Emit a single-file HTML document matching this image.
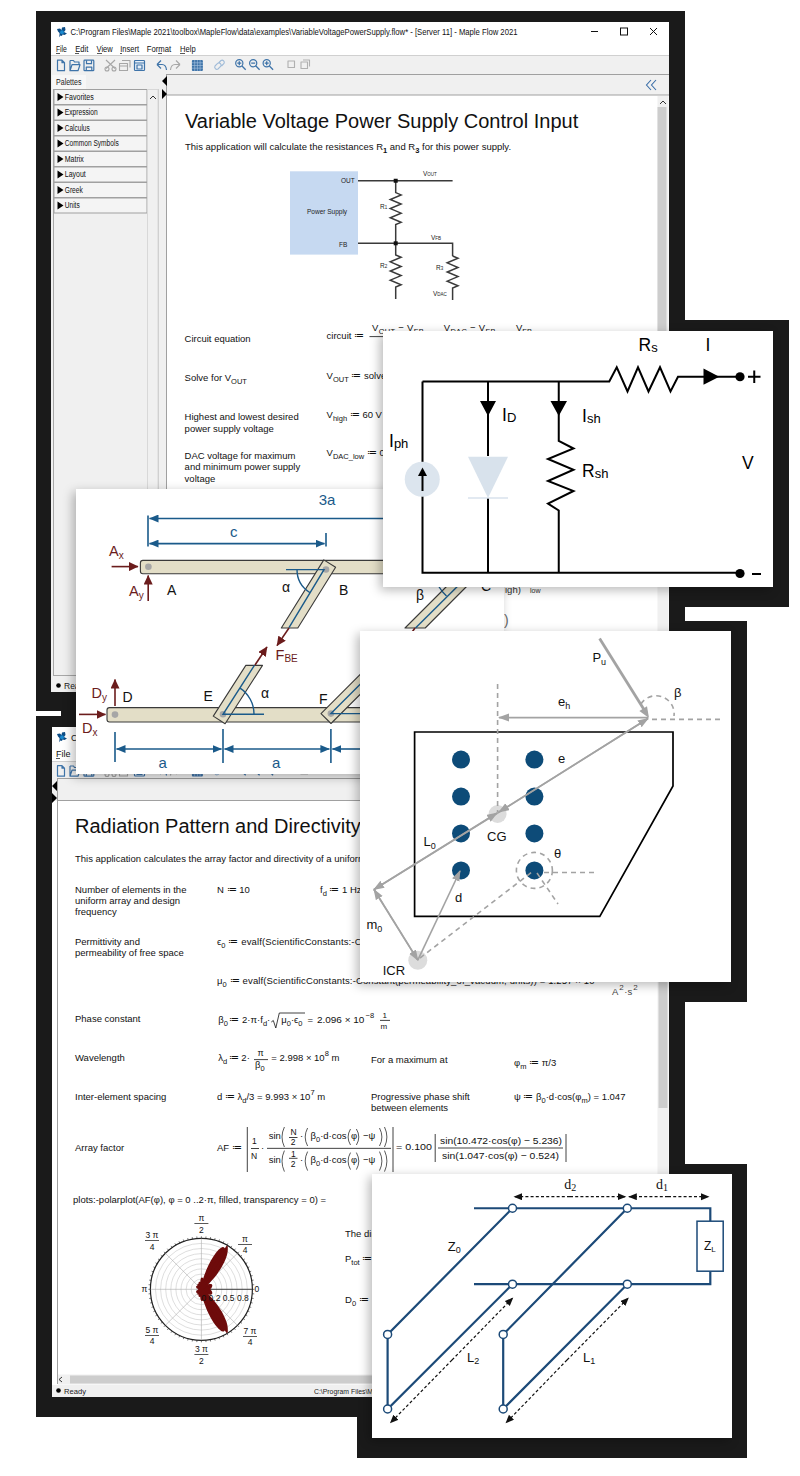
<!DOCTYPE html>
<html><head><meta charset="utf-8">
<style>
*{margin:0;padding:0;box-sizing:border-box}
html,body{width:800px;height:1476px;background:#fff;overflow:hidden;font-family:"Liberation Sans",sans-serif;color:#111}
.a{position:absolute}
.dk{position:absolute;background:#1a1a1a}
.win{position:absolute;background:#fff;overflow:hidden}
.t{position:absolute;white-space:nowrap;font-size:10.5px;line-height:1}
.card{position:absolute;background:#fff;box-shadow:-3px 3px 10px rgba(0,0,0,0.28)}
svg{position:absolute;left:0;top:0;overflow:visible}
sub{font-size:75%;vertical-align:-3px;line-height:0}
sup{font-size:75%;vertical-align:4px;line-height:0}
</style></head><body>
<!-- dark frames -->
<div class="dk" style="left:36px;top:11px;width:649px;height:700px"></div>
<div class="dk" style="left:36px;top:716px;width:649px;height:701px"></div>
<div class="dk" style="left:61px;top:480px;width:460px;height:310px"></div>
<div class="dk" style="left:367px;top:320px;width:422px;height:287px"></div>
<div class="dk" style="left:345px;top:621px;width:402px;height:381px"></div>
<div class="dk" style="left:357px;top:1164px;width:390px;height:294px"></div>

<!-- WINDOW 1 -->
<svg width="800" height="1476" style="font-family:'Liberation Sans',sans-serif">
<!-- window1 chrome -->
<rect x="51" y="22" width="618" height="670" fill="#fff"/>
<rect x="51" y="55.5" width="618" height="19" fill="#f0f0f0"/>
<line x1="51" y1="55.5" x2="669" y2="55.5" stroke="#d0d0d0" stroke-width="1"/>
<!-- palette area -->
<rect x="51" y="74" width="116" height="618" fill="#f0f0f0"/>
<rect x="52" y="75" width="34" height="14" fill="#f7f7f7"/>
<text x="56" y="85" font-size="8.5" fill="#222" textLength="25.5" lengthAdjust="spacingAndGlyphs">Palettes</text>
<rect x="53.5" y="89.5" width="104.5" height="586" fill="#f0f0f0" stroke="#a8a8a8" stroke-width="1"/>
<line x1="158.5" y1="89" x2="158.5" y2="676" stroke="#c8c8c8"/>
<line x1="166.5" y1="74" x2="166.5" y2="684" stroke="#a0a0a0"/>
<!-- palette items -->
<g font-size="8.5" fill="#111">
<rect x="54" y="89.5" width="93" height="15" fill="#f4f4f4" stroke="#a0a0a0" stroke-width="1"/><path d="M57.5 93.0 l6 4 l-6 4 z" fill="#000"/><text x="64.75" y="99.8" textLength="29" lengthAdjust="spacingAndGlyphs">Favorites</text>
<rect x="54" y="105.0" width="93" height="15" fill="#f4f4f4" stroke="#a0a0a0" stroke-width="1"/><path d="M57.5 108.5 l6 4 l-6 4 z" fill="#000"/><text x="64.75" y="115.3" textLength="33" lengthAdjust="spacingAndGlyphs">Expression</text>
<rect x="54" y="120.5" width="93" height="15" fill="#f4f4f4" stroke="#a0a0a0" stroke-width="1"/><path d="M57.5 124.0 l6 4 l-6 4 z" fill="#000"/><text x="64.75" y="130.8" textLength="25" lengthAdjust="spacingAndGlyphs">Calculus</text>
<rect x="54" y="136.0" width="93" height="15" fill="#f4f4f4" stroke="#a0a0a0" stroke-width="1"/><path d="M57.5 139.5 l6 4 l-6 4 z" fill="#000"/><text x="64.75" y="146.3" textLength="54" lengthAdjust="spacingAndGlyphs">Common Symbols</text>
<rect x="54" y="151.5" width="93" height="15" fill="#f4f4f4" stroke="#a0a0a0" stroke-width="1"/><path d="M57.5 155.0 l6 4 l-6 4 z" fill="#000"/><text x="64.75" y="161.8" textLength="19" lengthAdjust="spacingAndGlyphs">Matrix</text>
<rect x="54" y="167.0" width="93" height="15" fill="#f4f4f4" stroke="#a0a0a0" stroke-width="1"/><path d="M57.5 170.5 l6 4 l-6 4 z" fill="#000"/><text x="64.75" y="177.3" textLength="21" lengthAdjust="spacingAndGlyphs">Layout</text>
<rect x="54" y="182.5" width="93" height="15" fill="#f4f4f4" stroke="#a0a0a0" stroke-width="1"/><path d="M57.5 186.0 l6 4 l-6 4 z" fill="#000"/><text x="64.75" y="192.8" textLength="18" lengthAdjust="spacingAndGlyphs">Greek</text>
<rect x="54" y="198.0" width="93" height="15" fill="#f4f4f4" stroke="#a0a0a0" stroke-width="1"/><path d="M57.5 201.5 l6 4 l-6 4 z" fill="#000"/><text x="64.75" y="208.3" textLength="15" lengthAdjust="spacingAndGlyphs">Units</text>

</g>
<rect x="147.5" y="89.5" width="10.5" height="586" fill="#f0f0f0" stroke="#d8d8d8"/>
<path d="M150 99 l3 -3 l3 3" fill="none" stroke="#333" stroke-width="1"/>
<!-- doc area -->
<rect x="167" y="74.5" width="502" height="20.5" fill="#f0f0f0"/>
<line x1="167" y1="74.5" x2="669" y2="74.5" stroke="#a0a0a0"/>
<line x1="167" y1="95" x2="669" y2="95" stroke="#a0a0a0"/>
<path d="M162 81 l5 -5 v10 z M162 89 l5 5 l-5 5 z" fill="#000"/>
<path d="M651 80 l-4.5 5 l4.5 5 M656 80 l-4.5 5 l4.5 5" fill="none" stroke="#3a6ea8" stroke-width="1.1"/>
<rect x="657.5" y="96" width="11" height="588" fill="#f0f0f0"/>
<rect x="657.5" y="107" width="9" height="475" fill="#cdcdcd"/>
<path d="M660 104 l3 -3 l3 3" fill="none" stroke="#333" stroke-width="1"/>
<!-- status bar -->
<rect x="51" y="678" width="618" height="14" fill="#f0f0f0"/>
<circle cx="58.5" cy="685.5" r="2.3" fill="#000"/>
<text x="64" y="689" font-size="8.5" fill="#222">Ready</text>
<!-- title bar -->
<text x="70.5" y="35" font-size="8.6" fill="#111" textLength="447" lengthAdjust="spacingAndGlyphs">C:\Program Files\Maple 2021\toolbox\MapleFlow\data\examples\VariableVoltagePowerSupply.flow* - [Server 11] - Maple Flow 2021</text>
<path d="M591 31.5 h7" stroke="#111" stroke-width="1"/>
<rect x="620.5" y="28" width="7" height="7" fill="none" stroke="#111" stroke-width="1"/>
<path d="M650 28 l7 7 M657 28 l-7 7" stroke="#111" stroke-width="1"/>
<g transform="translate(0,0)"><path d="M57 29 L60 28.5 L61.5 30 L62 27.5 L65 27 L65.5 30 L64 32 L67 33.5 L64.5 35 L62.5 34.5 L62 36 L60.5 35.5 L59 37.2 L59.5 35 L59.5 33 L58 31.5 Z" fill="#0c4d86"/><circle cx="62" cy="32.2" r="1.9" fill="#1a8ad0"/></g>
<!-- menu -->
<g font-size="9" fill="#111">
<text x="55.9" y="52" textLength="11" lengthAdjust="spacingAndGlyphs">File</text><text x="75.3" y="52" textLength="13" lengthAdjust="spacingAndGlyphs">Edit</text><text x="96.5" y="52" textLength="16.2" lengthAdjust="spacingAndGlyphs">View</text><text x="120.2" y="52" textLength="18.8" lengthAdjust="spacingAndGlyphs">Insert</text><text x="146.8" y="52" textLength="24.4" lengthAdjust="spacingAndGlyphs">Format</text><text x="180" y="52" textLength="15.6" lengthAdjust="spacingAndGlyphs">Help</text>
</g>
<g stroke="#111" stroke-width="0.7">
<path d="M56 53.5 h4 M75 53.5 h4 M97 53.5 h5 M120 53.5 h2 M158 53.5 h4 M180 53.5 h5"/>
</g>
<g fill="none" stroke="#3f74a9" stroke-width="1.2" stroke-linejoin="round">
<path d="M57.5 60.2 h4.5 l2.5 2.5 v8 h-7 z M62 60.2 v2.5 h2.5"/>
<path d="M70 60.5 h3.5 l1 1.5 h4.5 v2.5 M70 60.5 v10.2 h8 l2 -6 h-8 l-2 6"/>
<rect x="84" y="60.2" width="9.8" height="10.5" rx="0.8"/><path d="M86.5 60.2 v3.5 h5 v-3.5 M86.3 70.7 v-3.6 h5.5 v3.6"/>
<rect x="134.5" y="60.5" width="10" height="10" rx="0.8" fill="#e8f0f8"/><path d="M134.5 63 h10 M137 65 h5 v4 h-5z"/>
<path d="M157 64.5 l4 -4 M157 64.5 l4 4 M157 64.5 h5 q4 0 4.5 5.5"/>
<circle cx="239.3" cy="63.2" r="3.6"/><path d="M242 66 l3.7 3.7 M237.3 63.2 h4 M239.3 61.2 v4" stroke-width="1.3"/>
<circle cx="253.2" cy="63.2" r="3.6"/><path d="M255.9 66 l3.7 3.7 M251.2 63.2 h4" stroke-width="1.3"/>
<circle cx="266.7" cy="63.2" r="3.6"/><path d="M269.4 66 l3.7 3.7 M264.7 63.2 h4 M266.7 61.2 v4" stroke-width="1.3"/>
</g>
<rect x="191.9" y="60" width="11" height="11" rx="1" fill="#3f74a9"/>
<g stroke="#a9c4e0" stroke-width="0.6"><path d="M192 62.8 h11 M192 65.5 h11 M192 68.2 h11 M194.7 60 v11 M197.4 60 v11 M200.1 60 v11"/></g>
<g fill="none" stroke="#9fbbd8" stroke-width="1.1">
<path d="M215 66 l2.8 -2.8 a2.2 2.2 0 0 1 3 3 l-2.8 2.8 a2.2 2.2 0 0 1 -3 -3z M218.5 63 l2.5 -2.5 a2.2 2.2 0 0 1 3 3 l-2.5 2.5"/>
</g>
<g fill="none" stroke="#a6a6a6" stroke-width="1.1" stroke-linejoin="round">
<path d="M106 60 l9 8.5 M115 60 l-9 8.5"/><circle cx="107" cy="69" r="2"/><circle cx="114" cy="69" r="2"/>
<path d="M119.5 63.5 h8 v7 h-8z M119.5 66 h8 M122 60.5 h8 v7"/>
<path d="M180 64.5 l-4 -4 M180 64.5 l-4 4 M180 64.5 h-5 q-4 0 -4.5 5.5"/>
<path d="M288 61 h6.5 v6.5 h-6.5z M301 62 h6.5 v6.5 h-6.5z M303 60 h6.5 v6.5" stroke="#b0b0b0"/>
</g>
<!-- document content -->
<text x="185" y="128" font-size="20" fill="#111">Variable Voltage Power Supply Control Input</text>
<text x="185" y="150" font-size="9.5" fill="#111">This application will calculate the resistances R<tspan font-size="7.5" dy="3" font-weight="bold">1</tspan><tspan dy="-3"> and R</tspan><tspan font-size="7.5" dy="3" font-weight="bold">3</tspan><tspan dy="-3"> for this power supply.</tspan></text>
<!-- small schematic -->
<rect x="290" y="171.3" width="68" height="83.3" fill="#c6d9f1"/>
<g stroke="#3a3a3a" stroke-width="1.5" fill="none">
<path d="M358 180.75 H452.6 M358 243.3 H452.6 V256"/>
<path d="M395.7 180.75 V192.6 l5.4 2.3 l-10.8 4.57 l10.8 4.57 l-10.8 4.57 l10.8 4.57 l-10.8 4.57 l10.8 4.57 l-5.4 2.3 V255 l5.4 2.3 l-10.8 4.57 l10.8 4.57 l-10.8 4.57 l10.8 4.57 l-10.8 4.57 l10.8 4.57 l-5.4 2.3 V299"/>
<path d="M452.6 256 l5.4 2.3 l-10.8 4.57 l10.8 4.57 l-10.8 4.57 l10.8 4.57 l-10.8 4.57 l10.8 4.57 l-5.4 2.3 V300"/>
</g>
<rect x="393.7" y="178.75" width="4" height="4" fill="#111"/>
<rect x="393.7" y="241.3" width="4" height="4" fill="#111"/>
<g font-size="6.5" fill="#222">
<text x="341" y="183">OUT</text><text x="307" y="214">Power Supply</text><text x="339" y="246.5">FB</text>
<text x="423" y="176">V<tspan font-size="4.5">OUT</tspan></text>
<text x="380" y="209">R<tspan font-size="4.5">1</tspan></text>
<text x="431" y="240">V<tspan font-size="4.5">FB</tspan></text>
<text x="380" y="268">R<tspan font-size="4.5">2</tspan></text>
<text x="436" y="270">R<tspan font-size="4.5">3</tspan></text>
<text x="433" y="296">V<tspan font-size="4.5">DAC</tspan></text>
</g>
<!-- rows -->
<g font-size="9.5" fill="#111">
<text x="184.6" y="341.6">Circuit equation</text>
<text x="184.6" y="381">Solve for V<tspan font-size="7.5" dy="3">OUT</tspan></text>
<text x="184.6" y="420">Highest and lowest desired</text>
<text x="184.6" y="432">power supply voltage</text>
<text x="184.6" y="458.5">DAC voltage for maximum</text>
<text x="184.6" y="470">and minimum power supply</text>
<text x="184.6" y="481.5">voltage</text>
<text x="326.6" y="339.3">circuit <tspan>≔</tspan></text>
<text x="372" y="331" letter-spacing="0.3">V<tspan font-size="7.5" dy="3">OUT</tspan><tspan dy="-3"> − V</tspan><tspan font-size="7.5" dy="3">FB</tspan></text><text x="443.75" y="331" letter-spacing="0.3">V<tspan font-size="7.5" dy="3">DAC</tspan><tspan dy="-3"> − V</tspan><tspan font-size="7.5" dy="3">FB</tspan></text><text x="516" y="331">V<tspan font-size="7.5" dy="3">FB</tspan></text>
<text x="326.6" y="378.5">V<tspan font-size="7.5" dy="3">OUT</tspan><tspan dy="-3"> ≔ solve</tspan></text>
<text x="326.6" y="417.6">V<tspan font-size="7.5" dy="3">high</tspan><tspan dy="-3"> ≔ 60 V</tspan></text>
<text x="326.6" y="456">V<tspan font-size="7.5" dy="3">DAC_low</tspan><tspan dy="-3"> ≔ 0</tspan></text>
</g>
<line x1="369.5" y1="336.6" x2="540" y2="336.6" stroke="#111" stroke-width="0.8"/>
<g font-size="9.5" fill="#333">
<text x="505" y="593">igh)</text><text x="530" y="593" font-size="7">low</text>
<text x="504" y="625" font-size="14" fill="#666">)</text>
</g>
</svg>


<!-- WINDOW 2 -->
<svg width="800" height="1476" style="font-family:'Liberation Sans',sans-serif">
<rect x="52" y="727" width="617" height="670" fill="#fff"/>
<g transform="translate(0,705)"><path d="M57 29 L60 28.5 L61.5 30 L62 27.5 L65 27 L65.5 30 L64 32 L67 33.5 L64.5 35 L62.5 34.5 L62 36 L60.5 35.5 L59 37.2 L59.5 35 L59.5 33 L58 31.5 Z" fill="#0c4d86"/><circle cx="62" cy="32.2" r="1.9" fill="#1a8ad0"/></g>
<text x="71" y="741" font-size="9" fill="#111">C:\</text>
<text x="56" y="757" font-size="9" fill="#111">File</text>
<path d="M56 758.5 h4" stroke="#111" stroke-width="0.7"/>
<rect x="52" y="762" width="617" height="16" fill="#f0f0f0"/>
<line x1="52" y1="761.5" x2="669" y2="761.5" stroke="#d0d0d0"/>
<g transform="translate(0,705.5)"><g fill="none" stroke="#3f74a9" stroke-width="1.2" stroke-linejoin="round">
<path d="M57.5 60.2 h4.5 l2.5 2.5 v8 h-7 z M62 60.2 v2.5 h2.5"/>
<path d="M70 60.5 h3.5 l1 1.5 h4.5 v2.5 M70 60.5 v10.2 h8 l2 -6 h-8 l-2 6"/>
<rect x="84" y="60.2" width="9.8" height="10.5" rx="0.8"/><path d="M86.5 60.2 v3.5 h5 v-3.5 M86.3 70.7 v-3.6 h5.5 v3.6"/>
<rect x="134.5" y="60.5" width="10" height="10" rx="0.8" fill="#e8f0f8"/><path d="M134.5 63 h10 M137 65 h5 v4 h-5z"/>
<path d="M157 64.5 l4 -4 M157 64.5 l4 4 M157 64.5 h5 q4 0 4.5 5.5"/>
<circle cx="239.3" cy="63.2" r="3.6"/><path d="M242 66 l3.7 3.7 M237.3 63.2 h4 M239.3 61.2 v4" stroke-width="1.3"/>
<circle cx="253.2" cy="63.2" r="3.6"/><path d="M255.9 66 l3.7 3.7 M251.2 63.2 h4" stroke-width="1.3"/>
<circle cx="266.7" cy="63.2" r="3.6"/><path d="M269.4 66 l3.7 3.7 M264.7 63.2 h4 M266.7 61.2 v4" stroke-width="1.3"/>
</g>
<rect x="191.9" y="60" width="11" height="11" rx="1" fill="#3f74a9"/>
<g stroke="#a9c4e0" stroke-width="0.6"><path d="M192 62.8 h11 M192 65.5 h11 M192 68.2 h11 M194.7 60 v11 M197.4 60 v11 M200.1 60 v11"/></g>
<g fill="none" stroke="#9fbbd8" stroke-width="1.1">
<path d="M215 66 l2.8 -2.8 a2.2 2.2 0 0 1 3 3 l-2.8 2.8 a2.2 2.2 0 0 1 -3 -3z M218.5 63 l2.5 -2.5 a2.2 2.2 0 0 1 3 3 l-2.5 2.5"/>
</g>
<g fill="none" stroke="#a6a6a6" stroke-width="1.1" stroke-linejoin="round">
<path d="M106 60 l9 8.5 M115 60 l-9 8.5"/><circle cx="107" cy="69" r="2"/><circle cx="114" cy="69" r="2"/>
<path d="M119.5 63.5 h8 v7 h-8z M119.5 66 h8 M122 60.5 h8 v7"/>
<path d="M180 64.5 l-4 -4 M180 64.5 l-4 4 M180 64.5 h-5 q-4 0 -4.5 5.5"/>
<path d="M288 61 h6.5 v6.5 h-6.5z M301 62 h6.5 v6.5 h-6.5z M303 60 h6.5 v6.5" stroke="#b0b0b0"/>
</g>
</g>
<rect x="52" y="778" width="617" height="23" fill="#f0f0f0"/>
<line x1="58" y1="778.5" x2="669" y2="778.5" stroke="#a0a0a0"/>
<line x1="58" y1="800.5" x2="669" y2="800.5" stroke="#a0a0a0"/>
<line x1="57.5" y1="778" x2="57.5" y2="1384" stroke="#a0a0a0"/>
<path d="M52 786 l5 -5 v10 z M52 793 l5 5 l-5 5 z" fill="#000"/>
<rect x="657.5" y="801" width="11" height="574" fill="#f0f0f0"/>
<rect x="658.5" y="812" width="9" height="296" fill="#cdcdcd"/>
<!-- horizontal scrollbar + status -->
<rect x="58" y="1374.5" width="611" height="10" fill="#f0f0f0"/>
<rect x="70" y="1375.5" width="587" height="8" fill="#cdcdcd"/>
<path d="M62 1377 l-3 2.5 l3 2.5" fill="none" stroke="#333" stroke-width="1"/>
<rect x="52" y="1385" width="617" height="12" fill="#f0f0f0"/>
<circle cx="58.5" cy="1390.5" r="2.3" fill="#000"/>
<text x="64" y="1394" font-size="8" fill="#222" textLength="22" lengthAdjust="spacingAndGlyphs">Ready</text>
<text x="314" y="1394" font-size="8" fill="#222" textLength="72" lengthAdjust="spacingAndGlyphs">C:\Program Files\Maple</text>
<!-- content -->
<text x="75" y="833" font-size="20" fill="#111">Radiation Pattern and Directivity</text>
<g font-size="9.5" fill="#111">
<text x="75" y="862">This application calculates the array factor and directivity of a uniform linear array.</text>
<text x="75" y="893">Number of elements in the</text>
<text x="75" y="904">uniform array and design</text>
<text x="75" y="915">frequency</text>
<text x="217" y="893">N <tspan>≔</tspan> 10</text>
<text x="320" y="893">f<tspan font-size="7.5" dy="3">d</tspan><tspan dy="-3"> ≔ 1 Hz</tspan></text>
<text x="75" y="945">Permittivity and</text>
<text x="75" y="956">permeability of free space</text>
<text x="217" y="945" letter-spacing="0.13">ϵ<tspan font-size="7.5" dy="3">0</tspan><tspan dy="-3"> ≔ evalf(ScientificConstants:-Constant(permittivity_of_vacuum, units)) = 8.854 × 10</tspan></text>
<text x="217" y="984" letter-spacing="0.13">μ<tspan font-size="7.5" dy="3">0</tspan><tspan dy="-3"> ≔ evalf(ScientificConstants:-Constant(permeability_of_vacuum, units)) = 1.257 × 10</tspan></text>
<text x="612" y="995" fill="#444">A<tspan font-size="8" dy="-5" dx="1">2</tspan><tspan dy="5" dx="0.5">·s</tspan><tspan font-size="8" dy="-5" dx="1">2</tspan></text>
<text x="75" y="1022">Phase constant</text>
<text x="218.3" y="1022.8">β<tspan font-size="7.5" dy="3">0</tspan><tspan dy="-3" dx="1.5">≔ 2·π·f</tspan><tspan font-size="7.5" dy="3">d</tspan><tspan dy="-3">·</tspan></text>
<text x="281.3" y="1022.8">μ<tspan font-size="7.5" dy="3">0</tspan><tspan dy="-3">·ϵ</tspan><tspan font-size="7.5" dy="3">0</tspan></text>
<text x="307.4" y="1022.8">=</text>
<text x="316.9" y="1022.8" textLength="47.5" lengthAdjust="spacingAndGlyphs">2.096 × 10</text>
<text x="365.6" y="1018" font-size="7.5">−8</text>
<text x="382.5" y="1018" font-size="8">1</text>
<text x="380.5" y="1028.75" font-size="8">m</text>
<text x="75" y="1061">Wavelength</text>
<text x="218.3" y="1060.8">λ<tspan font-size="7.5" dy="3">d</tspan><tspan dy="-3" dx="1.5">≔ 2·</tspan></text>
<text x="257.5" y="1056" font-size="9">π</text>
<text x="255" y="1068.3">β<tspan font-size="7.5" dy="3">0</tspan></text>
<text x="271.3" y="1060.8">= 2.998 × 10<tspan font-size="7.5" dy="-5">8</tspan><tspan dy="5"> m</tspan></text>
<text x="371" y="1063.2">For a maximum at</text>
<text x="514" y="1066">φ<tspan font-size="7.5" dy="3">m</tspan><tspan dy="-3"> ≔ π/3</tspan></text>
<text x="75" y="1100">Inter-element spacing</text>
<text x="217" y="1100">d ≔ λ<tspan font-size="7.5" dy="3">d</tspan><tspan dy="-3">/3 = 9.993 × 10</tspan><tspan font-size="7.5" dy="-5">7</tspan><tspan dy="5"> m</tspan></text>
<text x="371" y="1100">Progressive phase shift</text>
<text x="371" y="1111">between elements</text>
<text x="514" y="1100">ψ ≔ β<tspan font-size="7.5" dy="3">0</tspan><tspan dy="-3">·d·cos(φ</tspan><tspan font-size="7.5" dy="3">m</tspan><tspan dy="-3">) = 1.047</tspan></text>
<text x="75" y="1151">Array factor</text>
<text x="217" y="1151">AF ≔</text>
<text x="252" y="1144" font-size="8.5">1</text>
<text x="251" y="1159" font-size="8.5">N</text>
<text x="261" y="1151">·</text>
<g font-size="9.5">
<text x="268.75" y="1139.25">sin</text>
<text x="290.6" y="1135" font-size="8.5">N</text><text x="290.8" y="1145.4" font-size="8.5">2</text>
<text x="300" y="1139.25">·</text>
<text x="310.5" y="1139.25">β<tspan font-size="7.5" dy="3">0</tspan><tspan dy="-3">·d·cos</tspan></text>
<text x="351" y="1139.25">φ</text>
<text x="363" y="1139.25">−ψ</text>
<text x="268.75" y="1162.9">sin</text>
<text x="291" y="1156.8" font-size="8.5">1</text><text x="290.8" y="1167" font-size="8.5">2</text>
<text x="300" y="1162.9">·</text>
<text x="310.5" y="1162.9">β<tspan font-size="7.5" dy="3">0</tspan><tspan dy="-3">·d·cos</tspan></text>
<text x="351" y="1162.9">φ</text>
<text x="363" y="1162.9">−ψ</text>
</g>
<text x="396" y="1150" textLength="36" lengthAdjust="spacingAndGlyphs">= 0.100</text>
<text x="440" y="1144" font-size="9.5" textLength="122" lengthAdjust="spacingAndGlyphs">sin(10.472·cos(φ) − 5.236)</text>
<text x="442" y="1158.8" font-size="9.5" textLength="117" lengthAdjust="spacingAndGlyphs">sin(1.047·cos(φ) − 0.524)</text>
<text x="73" y="1203">plots:-polarplot(AF(φ), φ = 0 ..2·π, filled, transparency = 0) =</text>
<text x="345" y="1237">The directivity is</text>
<text x="345" y="1262">P<tspan font-size="7.5" dy="3">tot</tspan><tspan dy="-3"> ≔</tspan></text>
<text x="345" y="1303">D<tspan font-size="7.5" dy="3">0</tspan><tspan dy="-3"> ≔</tspan></text>
</g>
<g stroke="#111" stroke-width="0.8">
<path d="M247.3 1127 V1172 M393 1127 V1172 M251 1148.5 h8 M267 1148.35 H391 M289 1137.5 h8.5 M289 1158.3 h8.5 M435.2 1134 V1162 M566 1134 V1162 M438 1148 H563 M254 1059.6 h14 M380 1020.4 h10"/><path d="M271.3 1022 l2 -1.5 l2.5 7.5 l3.5 -15 H305" fill="none"/><path d="M284.4 1127 Q279.59999999999997 1137.0 284.4 1147 M307.6 1128 Q302.8 1137.0 307.6 1146 M350.5 1129 Q345.7 1137.0 350.5 1145 M356.4 1129 Q361.2 1137.0 356.4 1145 M379.5 1128 Q384.3 1137.0 379.5 1146 M384.5 1127 Q389.3 1137.0 384.5 1147 M284.4 1150.6 Q279.59999999999997 1161.1 284.4 1171.6 M307.6 1151.6 Q302.8 1161.1 307.6 1170.6 M350.5 1152.6 Q345.7 1161.1 350.5 1169.6 M356.4 1152.6 Q361.2 1161.1 356.4 1169.6 M379.5 1151.6 Q384.3 1161.1 379.5 1170.6 M384.5 1150.6 Q389.3 1161.1 384.5 1171.6 " fill="none" stroke-width="0.7"/>
</g>
<circle cx="201.4" cy="1289.3" r="51" fill="#fff" stroke="#222" stroke-width="1.2"/><circle cx="201.4" cy="1289.3" r="5.1" fill="none" stroke="#c8c8c8" stroke-width="0.6"/><circle cx="201.4" cy="1289.3" r="10.2" fill="none" stroke="#c8c8c8" stroke-width="0.6"/><circle cx="201.4" cy="1289.3" r="15.3" fill="none" stroke="#c8c8c8" stroke-width="0.6"/><circle cx="201.4" cy="1289.3" r="20.4" fill="none" stroke="#c8c8c8" stroke-width="0.6"/><circle cx="201.4" cy="1289.3" r="25.5" fill="none" stroke="#c8c8c8" stroke-width="0.6"/><circle cx="201.4" cy="1289.3" r="30.6" fill="none" stroke="#c8c8c8" stroke-width="0.6"/><circle cx="201.4" cy="1289.3" r="35.7" fill="none" stroke="#c8c8c8" stroke-width="0.6"/><circle cx="201.4" cy="1289.3" r="40.8" fill="none" stroke="#c8c8c8" stroke-width="0.6"/><circle cx="201.4" cy="1289.3" r="45.9" fill="none" stroke="#c8c8c8" stroke-width="0.6"/><line x1="201.4" y1="1289.3" x2="252.4" y2="1289.3" stroke="#aaa" stroke-width="0.6"/><line x1="201.4" y1="1289.3" x2="237.5" y2="1253.2" stroke="#aaa" stroke-width="0.6"/><line x1="201.4" y1="1289.3" x2="201.4" y2="1238.3" stroke="#aaa" stroke-width="0.6"/><line x1="201.4" y1="1289.3" x2="165.3" y2="1253.2" stroke="#aaa" stroke-width="0.6"/><line x1="201.4" y1="1289.3" x2="150.4" y2="1289.3" stroke="#aaa" stroke-width="0.6"/><line x1="201.4" y1="1289.3" x2="165.3" y2="1325.4" stroke="#aaa" stroke-width="0.6"/><line x1="201.4" y1="1289.3" x2="201.4" y2="1340.3" stroke="#aaa" stroke-width="0.6"/><line x1="201.4" y1="1289.3" x2="237.5" y2="1325.4" stroke="#aaa" stroke-width="0.6"/><line x1="252.4" y1="1289.3" x2="254.4" y2="1289.3" stroke="#222" stroke-width="0.6"/><line x1="252.2" y1="1284.9" x2="254.2" y2="1284.7" stroke="#222" stroke-width="0.6"/><line x1="251.6" y1="1280.4" x2="253.6" y2="1280.1" stroke="#222" stroke-width="0.6"/><line x1="250.7" y1="1276.1" x2="252.6" y2="1275.6" stroke="#222" stroke-width="0.6"/><line x1="249.3" y1="1271.9" x2="251.2" y2="1271.2" stroke="#222" stroke-width="0.6"/><line x1="247.6" y1="1267.7" x2="249.4" y2="1266.9" stroke="#222" stroke-width="0.6"/><line x1="245.6" y1="1263.8" x2="247.3" y2="1262.8" stroke="#222" stroke-width="0.6"/><line x1="243.2" y1="1260.0" x2="244.8" y2="1258.9" stroke="#222" stroke-width="0.6"/><line x1="240.5" y1="1256.5" x2="242.0" y2="1255.2" stroke="#222" stroke-width="0.6"/><line x1="237.5" y1="1253.2" x2="238.9" y2="1251.8" stroke="#222" stroke-width="0.6"/><line x1="234.2" y1="1250.2" x2="235.5" y2="1248.7" stroke="#222" stroke-width="0.6"/><line x1="230.7" y1="1247.5" x2="231.8" y2="1245.9" stroke="#222" stroke-width="0.6"/><line x1="226.9" y1="1245.1" x2="227.9" y2="1243.4" stroke="#222" stroke-width="0.6"/><line x1="223.0" y1="1243.1" x2="223.8" y2="1241.3" stroke="#222" stroke-width="0.6"/><line x1="218.8" y1="1241.4" x2="219.5" y2="1239.5" stroke="#222" stroke-width="0.6"/><line x1="214.6" y1="1240.0" x2="215.1" y2="1238.1" stroke="#222" stroke-width="0.6"/><line x1="210.3" y1="1239.1" x2="210.6" y2="1237.1" stroke="#222" stroke-width="0.6"/><line x1="205.8" y1="1238.5" x2="206.0" y2="1236.5" stroke="#222" stroke-width="0.6"/><line x1="201.4" y1="1238.3" x2="201.4" y2="1236.3" stroke="#222" stroke-width="0.6"/><line x1="197.0" y1="1238.5" x2="196.8" y2="1236.5" stroke="#222" stroke-width="0.6"/><line x1="192.5" y1="1239.1" x2="192.2" y2="1237.1" stroke="#222" stroke-width="0.6"/><line x1="188.2" y1="1240.0" x2="187.7" y2="1238.1" stroke="#222" stroke-width="0.6"/><line x1="184.0" y1="1241.4" x2="183.3" y2="1239.5" stroke="#222" stroke-width="0.6"/><line x1="179.8" y1="1243.1" x2="179.0" y2="1241.3" stroke="#222" stroke-width="0.6"/><line x1="175.9" y1="1245.1" x2="174.9" y2="1243.4" stroke="#222" stroke-width="0.6"/><line x1="172.1" y1="1247.5" x2="171.0" y2="1245.9" stroke="#222" stroke-width="0.6"/><line x1="168.6" y1="1250.2" x2="167.3" y2="1248.7" stroke="#222" stroke-width="0.6"/><line x1="165.3" y1="1253.2" x2="163.9" y2="1251.8" stroke="#222" stroke-width="0.6"/><line x1="162.3" y1="1256.5" x2="160.8" y2="1255.2" stroke="#222" stroke-width="0.6"/><line x1="159.6" y1="1260.0" x2="158.0" y2="1258.9" stroke="#222" stroke-width="0.6"/><line x1="157.2" y1="1263.8" x2="155.5" y2="1262.8" stroke="#222" stroke-width="0.6"/><line x1="155.2" y1="1267.7" x2="153.4" y2="1266.9" stroke="#222" stroke-width="0.6"/><line x1="153.5" y1="1271.9" x2="151.6" y2="1271.2" stroke="#222" stroke-width="0.6"/><line x1="152.1" y1="1276.1" x2="150.2" y2="1275.6" stroke="#222" stroke-width="0.6"/><line x1="151.2" y1="1280.4" x2="149.2" y2="1280.1" stroke="#222" stroke-width="0.6"/><line x1="150.6" y1="1284.9" x2="148.6" y2="1284.7" stroke="#222" stroke-width="0.6"/><line x1="150.4" y1="1289.3" x2="148.4" y2="1289.3" stroke="#222" stroke-width="0.6"/><line x1="150.6" y1="1293.7" x2="148.6" y2="1293.9" stroke="#222" stroke-width="0.6"/><line x1="151.2" y1="1298.2" x2="149.2" y2="1298.5" stroke="#222" stroke-width="0.6"/><line x1="152.1" y1="1302.5" x2="150.2" y2="1303.0" stroke="#222" stroke-width="0.6"/><line x1="153.5" y1="1306.7" x2="151.6" y2="1307.4" stroke="#222" stroke-width="0.6"/><line x1="155.2" y1="1310.9" x2="153.4" y2="1311.7" stroke="#222" stroke-width="0.6"/><line x1="157.2" y1="1314.8" x2="155.5" y2="1315.8" stroke="#222" stroke-width="0.6"/><line x1="159.6" y1="1318.6" x2="158.0" y2="1319.7" stroke="#222" stroke-width="0.6"/><line x1="162.3" y1="1322.1" x2="160.8" y2="1323.4" stroke="#222" stroke-width="0.6"/><line x1="165.3" y1="1325.4" x2="163.9" y2="1326.8" stroke="#222" stroke-width="0.6"/><line x1="168.6" y1="1328.4" x2="167.3" y2="1329.9" stroke="#222" stroke-width="0.6"/><line x1="172.1" y1="1331.1" x2="171.0" y2="1332.7" stroke="#222" stroke-width="0.6"/><line x1="175.9" y1="1333.5" x2="174.9" y2="1335.2" stroke="#222" stroke-width="0.6"/><line x1="179.8" y1="1335.5" x2="179.0" y2="1337.3" stroke="#222" stroke-width="0.6"/><line x1="184.0" y1="1337.2" x2="183.3" y2="1339.1" stroke="#222" stroke-width="0.6"/><line x1="188.2" y1="1338.6" x2="187.7" y2="1340.5" stroke="#222" stroke-width="0.6"/><line x1="192.5" y1="1339.5" x2="192.2" y2="1341.5" stroke="#222" stroke-width="0.6"/><line x1="197.0" y1="1340.1" x2="196.8" y2="1342.1" stroke="#222" stroke-width="0.6"/><line x1="201.4" y1="1340.3" x2="201.4" y2="1342.3" stroke="#222" stroke-width="0.6"/><line x1="205.8" y1="1340.1" x2="206.0" y2="1342.1" stroke="#222" stroke-width="0.6"/><line x1="210.3" y1="1339.5" x2="210.6" y2="1341.5" stroke="#222" stroke-width="0.6"/><line x1="214.6" y1="1338.6" x2="215.1" y2="1340.5" stroke="#222" stroke-width="0.6"/><line x1="218.8" y1="1337.2" x2="219.5" y2="1339.1" stroke="#222" stroke-width="0.6"/><line x1="223.0" y1="1335.5" x2="223.8" y2="1337.3" stroke="#222" stroke-width="0.6"/><line x1="226.9" y1="1333.5" x2="227.9" y2="1335.2" stroke="#222" stroke-width="0.6"/><line x1="230.7" y1="1331.1" x2="231.8" y2="1332.7" stroke="#222" stroke-width="0.6"/><line x1="234.2" y1="1328.4" x2="235.5" y2="1329.9" stroke="#222" stroke-width="0.6"/><line x1="237.5" y1="1325.4" x2="238.9" y2="1326.8" stroke="#222" stroke-width="0.6"/><line x1="240.5" y1="1322.1" x2="242.0" y2="1323.4" stroke="#222" stroke-width="0.6"/><line x1="243.2" y1="1318.6" x2="244.8" y2="1319.7" stroke="#222" stroke-width="0.6"/><line x1="245.6" y1="1314.8" x2="247.3" y2="1315.8" stroke="#222" stroke-width="0.6"/><line x1="247.6" y1="1310.9" x2="249.4" y2="1311.7" stroke="#222" stroke-width="0.6"/><line x1="249.3" y1="1306.7" x2="251.2" y2="1307.4" stroke="#222" stroke-width="0.6"/><line x1="250.7" y1="1302.5" x2="252.6" y2="1303.0" stroke="#222" stroke-width="0.6"/><line x1="251.6" y1="1298.2" x2="253.6" y2="1298.5" stroke="#222" stroke-width="0.6"/><line x1="252.2" y1="1293.7" x2="254.2" y2="1293.9" stroke="#222" stroke-width="0.6"/><line x1="201.4" y1="1289.3" x2="252.4" y2="1289.3" stroke="#222" stroke-width="0.8"/><polygon points="209.6,1289.3 209.6,1289.2 209.6,1289.0 209.7,1288.9 209.7,1288.7 209.8,1288.5 209.9,1288.4 210.0,1288.2 210.1,1288.0 210.2,1287.9 210.4,1287.7 210.5,1287.5 210.7,1287.3 210.8,1287.1 210.9,1286.9 211.1,1286.7 211.2,1286.4 211.3,1286.2 211.3,1286.0 211.4,1285.8 211.4,1285.6 211.4,1285.4 211.3,1285.2 211.2,1285.1 211.0,1284.9 210.8,1284.8 210.4,1284.8 210.1,1284.8 209.6,1284.8 209.0,1285.0 208.4,1285.2 207.6,1285.4 206.8,1285.8 205.8,1286.3 204.8,1286.9 203.6,1287.6 202.4,1288.5 201.4,1289.2 202.8,1288.0 204.3,1286.8 205.9,1285.4 207.5,1283.8 209.2,1282.1 210.9,1280.2 212.7,1278.2 214.4,1276.1 216.1,1273.9 217.7,1271.6 219.3,1269.2 220.8,1266.8 222.1,1264.4 223.3,1262.0 224.4,1259.6 225.3,1257.3 226.0,1255.2 226.5,1253.1 226.8,1251.3 226.9,1249.7 226.9,1248.2 226.9,1246.6 201.2,1289.3 223.9,1248.4 223.2,1247.9 222.1,1248.2 220.9,1249.0 219.4,1250.2 217.9,1251.9 216.2,1253.9 214.6,1256.2 212.9,1258.9 211.2,1261.8 209.6,1265.0 208.0,1268.3 206.6,1271.7 205.3,1275.1 204.1,1278.5 203.1,1281.8 202.2,1285.0 201.5,1288.0 201.5,1287.9 201.9,1285.4 202.1,1283.3 202.3,1281.6 202.3,1280.2 202.3,1279.2 202.1,1278.7 202.0,1278.4 201.8,1278.6 201.6,1279.1 201.4,1279.9 201.2,1280.9 201.1,1282.2 201.0,1283.6 201.0,1285.1 201.0,1286.6 201.1,1288.2 201.2,1288.9 201.0,1287.5 200.8,1286.2 200.5,1285.1 200.3,1284.2 200.1,1283.5 199.9,1283.0 199.7,1282.7 199.5,1282.6 199.5,1282.8 199.4,1283.1 199.5,1283.6 199.6,1284.3 199.7,1285.1 200.0,1285.9 200.3,1286.9 200.6,1287.8 201.0,1288.8 201.0,1288.9 200.6,1288.0 200.2,1287.3 199.8,1286.6 199.4,1286.0 199.1,1285.5 198.8,1285.1 198.5,1284.9 198.4,1284.7 198.2,1284.7 198.2,1284.8 198.2,1285.0 198.3,1285.3 198.5,1285.7 198.7,1286.1 199.0,1286.6 199.3,1287.1 199.7,1287.6 200.1,1288.1 200.5,1288.6 201.0,1289.1 200.9,1289.0 200.5,1288.6 200.0,1288.2 199.6,1287.8 199.2,1287.5 198.8,1287.3 198.4,1287.0 198.1,1286.9 197.8,1286.7 197.6,1286.7 197.4,1286.6 197.2,1286.6 197.1,1286.6 197.0,1286.7 197.0,1286.8 197.0,1286.9 197.1,1287.0 197.1,1287.1 197.2,1287.3 197.4,1287.4 197.5,1287.6 197.7,1287.7 197.9,1287.9 198.1,1288.0 198.3,1288.2 198.5,1288.3 198.7,1288.4 198.9,1288.6 199.2,1288.7 199.4,1288.8 199.6,1288.9 199.8,1288.9 199.9,1289.0 200.1,1289.1 200.3,1289.1 200.4,1289.2 200.6,1289.2 200.7,1289.2 200.8,1289.3 200.9,1289.3 201.0,1289.3 201.1,1289.3 201.1,1289.3 201.2,1289.3 201.2,1289.3 201.2,1289.3 201.2,1289.3 201.2,1289.3 201.1,1289.3 201.1,1289.3 201.0,1289.3 200.9,1289.3 200.8,1289.3 200.7,1289.4 200.6,1289.4 200.4,1289.4 200.3,1289.5 200.1,1289.5 199.9,1289.6 199.8,1289.7 199.6,1289.7 199.4,1289.8 199.2,1289.9 198.9,1290.0 198.7,1290.2 198.5,1290.3 198.3,1290.4 198.1,1290.6 197.9,1290.7 197.7,1290.9 197.5,1291.0 197.4,1291.2 197.2,1291.3 197.1,1291.5 197.1,1291.6 197.0,1291.7 197.0,1291.8 197.0,1291.9 197.1,1292.0 197.2,1292.0 197.4,1292.0 197.6,1291.9 197.8,1291.9 198.1,1291.7 198.4,1291.6 198.8,1291.3 199.2,1291.1 199.6,1290.8 200.0,1290.4 200.5,1290.0 200.9,1289.6 201.0,1289.5 200.5,1290.0 200.1,1290.5 199.7,1291.0 199.3,1291.5 199.0,1292.0 198.7,1292.5 198.5,1292.9 198.3,1293.3 198.2,1293.6 198.2,1293.8 198.2,1293.9 198.4,1293.9 198.5,1293.7 198.8,1293.5 199.1,1293.1 199.4,1292.6 199.8,1292.0 200.2,1291.3 200.6,1290.6 201.0,1289.7 201.0,1289.8 200.6,1290.8 200.3,1291.7 200.0,1292.7 199.7,1293.5 199.6,1294.3 199.5,1295.0 199.4,1295.5 199.5,1295.8 199.5,1296.0 199.7,1295.9 199.9,1295.6 200.1,1295.1 200.3,1294.4 200.5,1293.5 200.8,1292.4 201.0,1291.1 201.2,1289.7 201.1,1290.4 201.0,1292.0 201.0,1293.5 201.0,1295.0 201.1,1296.4 201.2,1297.7 201.4,1298.7 201.6,1299.5 201.8,1300.0 202.0,1300.2 202.1,1299.9 202.3,1299.4 202.3,1298.4 202.3,1297.0 202.1,1295.3 201.9,1293.2 201.5,1290.7 201.5,1290.6 202.2,1293.6 203.1,1296.8 204.1,1300.1 205.3,1303.5 206.6,1306.9 208.0,1310.3 209.6,1313.6 211.2,1316.8 212.9,1319.7 214.6,1322.4 216.2,1324.7 217.9,1326.7 219.4,1328.4 220.9,1329.6 222.1,1330.4 223.2,1330.7 223.9,1330.2 201.2,1289.3 226.9,1332.0 226.9,1330.4 226.9,1328.9 226.8,1327.3 226.5,1325.5 226.0,1323.4 225.3,1321.3 224.4,1319.0 223.3,1316.6 222.1,1314.2 220.8,1311.8 219.3,1309.4 217.7,1307.0 216.1,1304.7 214.4,1302.5 212.7,1300.4 210.9,1298.4 209.2,1296.5 207.5,1294.8 205.9,1293.2 204.3,1291.8 202.8,1290.6 201.4,1289.4 202.4,1290.1 203.6,1291.0 204.8,1291.7 205.8,1292.3 206.8,1292.8 207.6,1293.2 208.4,1293.4 209.0,1293.6 209.6,1293.8 210.1,1293.8 210.4,1293.8 210.8,1293.8 211.0,1293.7 211.2,1293.5 211.3,1293.4 211.4,1293.2 211.4,1293.0 211.4,1292.8 211.3,1292.6 211.3,1292.4 211.2,1292.2 211.1,1291.9 210.9,1291.7 210.8,1291.5 210.7,1291.3 210.5,1291.1 210.4,1290.9 210.2,1290.7 210.1,1290.6 210.0,1290.4 209.9,1290.2 209.8,1290.1 209.7,1289.9 209.7,1289.7 209.6,1289.6 209.6,1289.4 209.6,1289.3" fill="#6e0b0b" stroke="#6e0b0b" stroke-width="1.8" stroke-linejoin="round"/><g font-size="8.5" fill="#111"><text x="254.4" y="1292.3">0</text><text x="201.5" y="1300.5" font-size="8.5">0 0.2 0.5 0.8</text><text x="141.4" y="1292.3">π</text><text x="201.4" y="1221" text-anchor="middle">π</text><line x1="194.4" y1="1223.5" x2="208.4" y2="1223.5" stroke="#111" stroke-width="0.7"/><text x="201.4" y="1233" text-anchor="middle">2</text><text x="152" y="1238" text-anchor="middle">3 π</text><line x1="145" y1="1240.5" x2="159" y2="1240.5" stroke="#111" stroke-width="0.7"/><text x="152" y="1250" text-anchor="middle">4</text><text x="245" y="1242" text-anchor="middle">π</text><line x1="238" y1="1244.5" x2="252" y2="1244.5" stroke="#111" stroke-width="0.7"/><text x="245" y="1253" text-anchor="middle">4</text><text x="152" y="1333" text-anchor="middle">5 π</text><line x1="145" y1="1335.5" x2="159" y2="1335.5" stroke="#111" stroke-width="0.7"/><text x="152" y="1344" text-anchor="middle">4</text><text x="250" y="1334" text-anchor="middle">7 π</text><line x1="243" y1="1336.5" x2="257" y2="1336.5" stroke="#111" stroke-width="0.7"/><text x="250" y="1345" text-anchor="middle">4</text><text x="201.4" y="1352" text-anchor="middle">3 π</text><line x1="194.4" y1="1354.5" x2="208.4" y2="1354.5" stroke="#111" stroke-width="0.7"/><text x="201.4" y="1364" text-anchor="middle">2</text></g>
</svg>


<!-- TRUSS CARD -->
<div class="card" id="truss" style="left:76px;top:489px;width:428px;height:285px">
<svg width="428" height="285" viewBox="76 489 428 285" style="font-family:'Liberation Sans',sans-serif">
<defs>
<marker id="bh" markerWidth="10" markerHeight="8" refX="9" refY="4" orient="auto" markerUnits="userSpaceOnUse"><path d="M0 0 L9.5 4 L0 8 Z" fill="#1a5a8a"/></marker>
<marker id="mh" markerWidth="10" markerHeight="9" refX="9" refY="4.5" orient="auto" markerUnits="userSpaceOnUse"><path d="M0 0 L9.5 4.5 L0 9 Z" fill="#6b1c1c"/></marker>
</defs>
<g stroke="#1a5a8a" stroke-width="1.6" fill="none">
<path d="M148 515.6 V546.4 M326 533 V546.5 M115 732 V762 M223 729 V763 M330.9 729 V763"/>
<path d="M504 518.5 H149.5" marker-end="url(#bh)"/>
<path d="M230 543.6 H149.5" marker-end="url(#bh)"/>
<path d="M230 543.6 H324.5" marker-end="url(#bh)"/>
<path d="M170 749 H116.5" marker-end="url(#bh)"/>
<path d="M170 749 H221.5" marker-end="url(#bh)"/>
<path d="M277 749 H224.5" marker-end="url(#bh)"/>
<path d="M277 749 H329.4" marker-end="url(#bh)"/>
<path d="M360 749 H332.4" marker-end="url(#bh)"/>
</g>
<!-- beams -->
<rect x="140.4" y="560.4" width="360" height="13.4" rx="2.5" fill="#e3dec7" stroke="#3a3a3a" stroke-width="1.1"/>
<rect x="107" y="707.6" width="300" height="14.4" rx="2.5" fill="#e3dec7" stroke="#3a3a3a" stroke-width="1.1"/>
<circle cx="148.4" cy="566.8" r="3.3" fill="#a6a6a6"/>
<circle cx="115" cy="714.6" r="3.3" fill="#a6a6a6"/>
<!-- member BE upper -->
<path d="M281.3 628 L297.8 628 L335.6 567.3 L323.8 559.9 Z" fill="#e3dec7" stroke="#3a3a3a" stroke-width="1.1" stroke-linejoin="round"/>
<circle cx="326" cy="569.5" r="3.3" fill="#a6a6a6"/>
<path d="M286 569.6 H324 L289 627.6 M297 569.6 A27 27 0 0 0 309.7 592.5" stroke="#1a5a8a" stroke-width="1.4" fill="none"/>
<!-- member at E -->
<path d="M245.8 665.4 L262.5 665.4 L225.1 723.7 L213.3 716.1 Z" fill="#e3dec7" stroke="#3a3a3a" stroke-width="1.1" stroke-linejoin="round"/>
<circle cx="223" cy="714.3" r="3.3" fill="#a6a6a6"/>
<path d="M264 714.3 H223 L254.4 665.4 M254 714.3 A31 31 0 0 0 239.7 687.9" stroke="#1a5a8a" stroke-width="1.4" fill="none"/>
<!-- member at F -->
<path d="M321 713.6 L391 643.6 L401 653.6 L331 723.5 Z" fill="#e3dec7" stroke="#3a3a3a" stroke-width="1.1" stroke-linejoin="round"/>
<circle cx="330.9" cy="713.6" r="3.3" fill="#a6a6a6"/>
<path d="M380 713.6 H330.9 L400 644.5" stroke="#1a5a8a" stroke-width="1.4" fill="none"/>
<!-- member at C -->
<path d="M405 628 L425.2 628 L490 563 L470 563 Z" fill="#e3dec7" stroke="#3a3a3a" stroke-width="1.1" stroke-linejoin="round"/>
<path d="M415.5 628 L478 566" stroke="#1a5a8a" stroke-width="1.4" fill="none"/>
<path d="M438.5 586 A42 42 0 0 0 446.5 596" stroke="#1a5a8a" stroke-width="1.4" fill="none"/>
<!-- maroon arrows -->
<g stroke="#6b1c1c" stroke-width="1.6" fill="none">
<path d="M111.6 566.6 H138" marker-end="url(#mh)"/>
<path d="M148.2 601 V575.5" marker-end="url(#mh)"/>
<path d="M79 714.4 H105.5" marker-end="url(#mh)"/>
<path d="M115 706 V679.5" marker-end="url(#mh)"/>
<path d="M289 628 L277 645.6" marker-end="url(#mh)"/>
<path d="M255 665 L267 647" marker-end="url(#mh)"/>
<path d="M415 628 L410 635"/>
</g>
<g font-size="14.5" fill="#6b1c1c">
<text x="109" y="556">A<tspan font-size="10" dy="3">x</tspan></text>
<text x="129" y="596">A<tspan font-size="10" dy="3">y</tspan></text>
<text x="82" y="733">D<tspan font-size="10" dy="3">x</tspan></text>
<text x="91.6" y="698">D<tspan font-size="10" dy="3">y</tspan></text>
<text x="275.6" y="660">F<tspan font-size="10" dy="2">BE</tspan></text>
</g>
<g font-size="14" fill="#111">
<text x="167" y="595">A</text>
<text x="339" y="595">B</text>
<text x="122.4" y="702">D</text>
<text x="203.6" y="701">E</text>
<text x="319" y="704">F</text>
<text x="481" y="591">C</text>
<text x="282" y="592.4">α</text>
<text x="261" y="698">α</text>
<text x="416" y="599.5">β</text>
</g>
<g font-size="15" fill="#1a5a8a">
<text x="318.75" y="504.6">3a</text>
<text x="230" y="537">c</text>
<text x="158.4" y="768">a</text>
<text x="272" y="768">a</text>
</g>
</svg>
</div>

<!-- CIRCUIT CARD -->
<div class="card" id="circ" style="left:383px;top:331px;width:390px;height:256px">
<svg width="390" height="256" viewBox="383 331 390 256" style="font-family:'Liberation Sans',sans-serif">
<g stroke="#000" stroke-width="2" fill="none" stroke-linejoin="miter">
<path d="M422.5 381.5 H609.25 L616.75 367.25 L627.5 391.5 L638 367.25 L648.5 391.5 L660 367.25 L670.5 391.5 L678 376.75 H740"/>
<path d="M422.5 381.5 V572.75 H740"/>
<path d="M488 381.5 V456 M488 498 V573"/>
<path d="M558.75 381.5 V441 L573.5 448.5 L548 459 L573.5 469.75 L548 481 L573.5 491 L548 503.5 L558.75 510.5 V573"/>
</g>
<path d="M480 401 H496 L488 416 Z M550.5 401 H567 L558.75 416 Z M703.5 368.5 V384.75 L719.25 376.75 Z" fill="#000"/>
<circle cx="740" cy="376.75" r="4.6" fill="#000"/>
<circle cx="740" cy="573.5" r="4.6" fill="#000"/>
<circle cx="422.25" cy="479.25" r="17.5" fill="#dce5ee"/>
<path d="M422.5 491 V474" stroke="#000" stroke-width="2"/>
<path d="M418 476 L422.5 467.5 L427 476 Z" fill="#000"/>
<path d="M468 456.75 H508 L488 498 Z" fill="#d8e2ec"/>
<path d="M468 498 H508" stroke="#d8e2ec" stroke-width="1.5"/>
<path d="M748 376.75 h12.5 M754.25 370.5 v12.5 M752 574 h9" stroke="#000" stroke-width="2"/>
<g font-size="17.5" fill="#000">
<text x="389" y="447">I<tspan font-size="13" dy="1">ph</tspan></text>
<text x="502" y="421">I<tspan font-size="13" dy="1">D</tspan></text>
<text x="582" y="422">I<tspan font-size="13" dy="1">sh</tspan></text>
<text x="582" y="476.75">R<tspan font-size="13" dy="1">sh</tspan></text>
<text x="638.5" y="351">R<tspan font-size="13" dy="1">s</tspan></text>
<text x="705.5" y="351">I</text>
<text x="742" y="468.5">V</text>
</g>
</svg>
</div>

<!-- CG CARD -->
<div class="card" id="cg" style="left:360px;top:631px;width:371px;height:351px">
<svg width="371" height="351" viewBox="360 631 371 351" style="font-family:'Liberation Sans',sans-serif">
<defs>
<marker id="gh" markerWidth="12" markerHeight="10" refX="10" refY="4" orient="auto" markerUnits="userSpaceOnUse"><path d="M0 0 L11 4 L0 8 Z" fill="#a3a3a3"/></marker>
<marker id="gh0" markerWidth="12" markerHeight="10" refX="1" refY="4.5" orient="auto-start-reverse" markerUnits="userSpaceOnUse"><path d="M0 0 L11 4.5 L0 9 Z" fill="#a3a3a3"/></marker>
</defs>
<path d="M414.6 732 H673 V786 L599.8 916.4 H414.6 Z" fill="none" stroke="#000" stroke-width="1.7"/>
<g fill="#0d4b78">
<circle cx="461" cy="759.6" r="9"/><circle cx="534.4" cy="759.6" r="9"/>
<circle cx="461" cy="796.6" r="9"/><circle cx="534.4" cy="796.6" r="9"/>
<circle cx="461" cy="833.4" r="9"/><circle cx="534.4" cy="833.4" r="9"/>
<circle cx="461" cy="870.4" r="9"/><circle cx="534.4" cy="870.4" r="9"/>
</g>
<circle cx="497.6" cy="814" r="9" fill="#dcdcdc"/>
<circle cx="417.8" cy="960.2" r="9.5" fill="#dcdcdc"/>
<g stroke="#a3a3a3" stroke-width="1.6" fill="none" stroke-dasharray="5 4">
<path d="M497.6 684 V812"/>
<path d="M652 719.4 H724"/>
<path d="M641 704 A18 18 0 0 1 674 716"/>
<circle cx="534.4" cy="870.4" r="18"/>
<path d="M544 872.5 H594 M537 873 L558 904 M420 958 L532 872"/>
</g>
<g stroke="#a3a3a3" stroke-width="1.6" fill="none">
<path d="M599.6 638.4 L644 709.5" stroke-width="2.8"/><path d="M639.4 711 L649 718 L647 706.3 Z" fill="#a3a3a3" stroke="none"/>
<path d="M648 717.6 H499" marker-end="url(#gh)"/>
<path d="M497.6 813 L648 718.5" marker-end="url(#gh)"/>
<path d="M497.6 813 L374 889.5" marker-end="url(#gh)"/>
<path d="M374 889.5 L497 813" marker-end="url(#gh)"/>
<path d="M648 718.5 L499 812" marker-end="url(#gh)"/>
<path d="M417.8 960.2 L374 889.5" marker-end="url(#gh)"/>
<path d="M374 889.5 L417.8 960.2" marker-end="url(#gh)"/>
<path d="M417.8 960.2 L460 871" marker-end="url(#gh)"/>
</g>
<g font-size="13" fill="#111">
<text x="592.4" y="662">P<tspan font-size="9" dy="3">u</tspan></text>
<text x="674" y="697">β</text>
<text x="558" y="706">e<tspan font-size="9" dy="3">h</tspan></text>
<text x="558" y="762.5">e</text>
<text x="423.6" y="846.4">L<tspan font-size="9" dy="3">0</tspan></text>
<text x="487" y="840.6">CG</text>
<text x="554" y="858">θ</text>
<text x="455" y="901.7">d</text>
<text x="366.5" y="929.4">m<tspan font-size="9" dy="3">0</tspan></text>
<text x="382.7" y="975">ICR</text>
</g>
</svg>
</div>

<!-- TRANSMISSION CARD -->
<div class="card" id="tl" style="left:372px;top:1174px;width:360px;height:264px">
<svg width="360" height="264" viewBox="372 1174 360 264" style="font-family:'Liberation Sans',sans-serif">
<defs>
<marker id="kh" markerWidth="9" markerHeight="8" refX="8" refY="3.5" orient="auto" markerUnits="userSpaceOnUse"><path d="M0 0 L8.5 3.5 L0 7 Z" fill="#111"/></marker>
</defs>
<g stroke="#1c4a78" stroke-width="2.2" fill="none" stroke-linejoin="miter">
<path d="M474 1208.25 H710.3 V1221.2 M710.3 1271.25 V1284.2 H474"/>
<path d="M512.5 1208.25 L387.6 1334.4 V1409 L512.5 1284.2"/>
<path d="M627.3 1208.25 L503.2 1334.4 V1409 L627.3 1284.2"/>
</g>
<rect x="697" y="1221.2" width="26.2" height="50" fill="#fff" stroke="#1c4a78" stroke-width="1.5"/>
<g fill="#fff" stroke="#1c4a78" stroke-width="1.5">
<circle cx="512.5" cy="1208.25" r="4"/><circle cx="627.3" cy="1208.25" r="4"/>
<circle cx="512.5" cy="1284.2" r="4"/><circle cx="627.3" cy="1284.2" r="4"/>
<circle cx="387.6" cy="1334.4" r="4"/><circle cx="387.6" cy="1409" r="4"/>
<circle cx="503.2" cy="1334.4" r="4"/><circle cx="503.2" cy="1409" r="4"/>
</g>
<g stroke="#111" stroke-width="1.2" fill="none" stroke-dasharray="3 2.2">
<path d="M570 1196.7 H514" marker-end="url(#kh)"/>
<path d="M570 1196.7 H625.8" marker-end="url(#kh)"/>
<path d="M668 1196.7 H628.8" marker-end="url(#kh)"/>
<path d="M668 1196.7 H709" marker-end="url(#kh)"/>
<path d="M452 1360 L512.9 1297.8" marker-end="url(#kh)"/>
<path d="M452 1360 L390.3 1423" marker-end="url(#kh)"/>
<path d="M567 1360 L628.5 1297.8" marker-end="url(#kh)"/>
<path d="M567 1360 L505.9 1423" marker-end="url(#kh)"/>
</g>
<g font-size="13" fill="#111">
<text x="447.8" y="1251">Z<tspan font-size="9" dy="2">0</tspan></text>
<text x="704" y="1250.3" font-size="12">Z<tspan font-size="8" dy="2">L</tspan></text>
<text x="467" y="1362">L<tspan font-size="9" dy="2">2</tspan></text>
<text x="583" y="1362">L<tspan font-size="9" dy="2">1</tspan></text>
</g>
<g font-size="14" fill="#111" style="font-family:'Liberation Serif',serif">
<text x="564.3" y="1189">d<tspan font-size="10" dy="2">2</tspan></text>
<text x="656" y="1189">d<tspan font-size="10" dy="2">1</tspan></text>
</g>
</svg>
</div>
</body></html>
